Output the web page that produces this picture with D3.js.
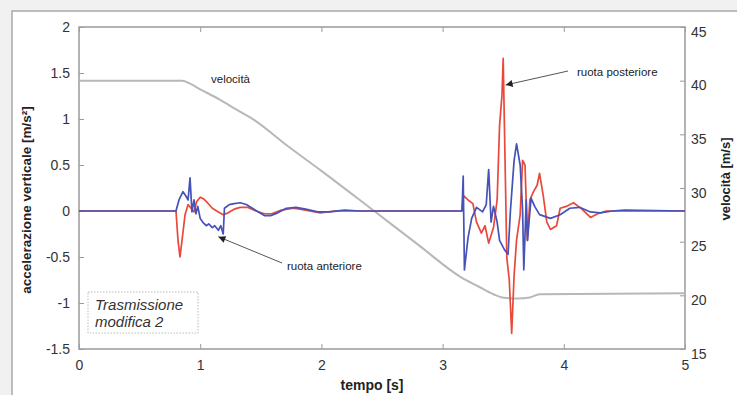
<!DOCTYPE html>
<html>
<head>
<meta charset="utf-8">
<script src="https://cdn.jsdelivr.net/npm/d3@7"></script>
<style>
  html, body { margin: 0; padding: 0; background: #f1f1f1; }
  svg { display: block; font-family: "Liberation Sans", Arial, sans-serif; }
</style>
</head>
<body>
<div id="chart"></div>
<script>
// tempo [s] / valori
const velT = [0, 0.85, 0.92, 1.0, 1.15, 1.3, 1.45, 1.7, 2.0, 2.43, 2.8, 3.15, 3.3, 3.42, 3.49, 3.62, 3.72, 3.8, 5];
const velV = [40, 40, 39.7, 39.2, 38.3, 37.3, 36.3, 34.1, 31.6, 27.9, 24.7, 21.7, 20.8, 20.1, 19.8, 19.7, 19.8, 20.1, 20.2];

// ruota anteriore (blu)
const antT = [0, 0.80, 0.825, 0.858, 0.883, 0.90, 0.916, 0.932, 0.949, 0.965, 0.98, 1.0, 1.02, 1.05, 1.07, 1.10,
  1.12, 1.15, 1.17, 1.19, 1.20, 1.24, 1.28, 1.33, 1.38, 1.43, 1.48, 1.53, 1.58, 1.64, 1.71, 1.79, 1.87, 1.97,
  2.07, 2.19, 2.32, 3.16, 3.17, 3.18, 3.21, 3.24, 3.28, 3.33, 3.36, 3.38, 3.40, 3.42, 3.45, 3.47, 3.51, 3.54,
  3.56, 3.59, 3.61, 3.64, 3.66, 3.67, 3.69, 3.70, 3.73, 3.76, 3.80, 3.89, 3.97, 4.05, 4.13, 4.22, 4.30, 4.40, 4.50, 5];
const antA = [0, 0, 0.12, 0.21, 0.16, 0.12, 0.36, -0.01, 0.12, -0.03, 0.05, -0.08, -0.12, -0.16, -0.14, -0.18,
  -0.16, -0.21, -0.16, -0.25, 0.03, 0.07, 0.08, 0.09, 0.07, 0.03, -0.01, -0.05, -0.05, -0.02, 0.03, 0.04, 0.02, -0.01,
  -0.01, 0.01, 0, 0, 0.38, -0.64, -0.29, -0.08, 0.04, -0.01, 0.07, 0.45, -0.12, 0.05, -0.12, -0.32, -0.42, -0.47,
  0.01, 0.55, 0.73, 0.50, 0.01, -0.64, 0.12, -0.32, 0.14, 0.05, -0.04, -0.08, -0.04, 0.03, 0.04, -0.01, -0.02, 0, 0.01, 0];

// ruota posteriore (rossa)
const posT = [0, 0.80, 0.817, 0.833, 0.85, 0.875, 0.90, 0.924, 0.95, 0.97, 1.0, 1.03, 1.06, 1.10, 1.15, 1.19,
  1.23, 1.28, 1.33, 1.39, 1.46, 1.53, 1.59, 1.67, 1.77, 1.87, 1.99, 2.11, 3.16, 3.17, 3.21, 3.25, 3.28, 3.32,
  3.35, 3.38, 3.42, 3.45, 3.47, 3.49, 3.50, 3.51, 3.53, 3.55, 3.57, 3.59, 3.61, 3.64, 3.66, 3.68, 3.70, 3.72,
  3.75, 3.78, 3.80, 3.83, 3.86, 3.89, 3.94, 3.97, 4.02, 4.08, 4.15, 4.22, 4.28, 4.35, 4.46, 5];
const posA = [0, 0, -0.32, -0.5, -0.32, -0.04, 0.07, 0.03, -0.01, 0.10, 0.15, 0.13, 0.09, 0.03, -0.01, -0.04,
  -0.02, 0.02, 0.04, 0.04, 0, -0.03, -0.03, 0.01, 0.03, 0.01, -0.02, 0, 0, 0.17, 0.12, 0.08, -0.12, -0.24,
  -0.16, -0.35, -0.18, 0.12, 0.93, 1.26, 1.66, 0.93, -0.51, -0.75, -1.33, -0.70, -0.32, -0.04, 0.55, 0.50, -0.32, 0.12,
  0.21, 0.28, 0.41, 0.17, -0.12, -0.20, -0.16, 0.03, 0.05, 0.09, 0.02, -0.07, -0.03, 0, 0, 0];

const tTicks = [0, 1, 2, 3, 4, 5];
const aTicks = [2, 1.5, 1, 0.5, 0, -0.5, -1, -1.5];
const vTicks = [45, 40, 35, 30, 25, 20, 15];

const W = 737, H = 395;
const svg = d3.select("#chart").append("svg").attr("width", W).attr("height", H);

// cornice esterna
svg.append("rect").attr("x", 12).attr("y", 11).attr("width", W + 10).attr("height", H + 10)
  .attr("fill", "#fff").attr("stroke", "#a9a9a9").attr("stroke-width", 1.5);

const x = d3.scaleLinear().domain([0, 5]).range([79, 685]);
const yA = d3.scaleLinear().domain([-1.5, 2]).range([349, 27]);
const yV = d3.scaleLinear().domain([15, 45]).range([349, 27]);

function styleAxis(g) {
  g.select(".domain").remove();
  g.selectAll(".tick line").attr("stroke", "#9a9a9a");
  g.selectAll(".tick text").attr("fill", "#333").style("font-size", "14px");
}

svg.append("g").attr("transform", "translate(0,349)")
  .call(d3.axisBottom(x).tickValues(tTicks).tickFormat(d3.format("d")).tickSize(-5).tickPadding(11))
  .call(styleAxis);
svg.append("g").attr("transform", "translate(0,27)")
  .call(d3.axisTop(x).tickValues(tTicks).tickFormat("").tickSize(-5))
  .call(styleAxis);
svg.append("g").attr("transform", "translate(79,0)")
  .call(d3.axisLeft(yA).tickValues(aTicks).tickFormat(d => String(d)).tickSize(-5).tickPadding(9))
  .call(styleAxis);
svg.append("g").attr("transform", "translate(685,0)")
  .call(d3.axisRight(yV).tickValues(vTicks).tickFormat(d3.format("d")).tickSize(-5).tickPadding(6))
  .call(styleAxis)
  .selectAll(".tick text").attr("dy", "0.65em");

// riquadro del grafico
svg.append("rect").attr("x", 79).attr("y", 27).attr("width", 606).attr("height", 322)
  .attr("fill", "none").attr("stroke", "#a0a0a0").attr("stroke-width", 1.6);

const lineV = d3.line().x((d, i) => x(velT[i])).y(d => yV(d)).curve(d3.curveMonotoneX);
svg.append("path").datum(velV).attr("d", lineV)
  .attr("fill", "none").attr("stroke", "#b8b8b8").attr("stroke-width", 2);

const linePos = d3.line().x((d, i) => x(posT[i])).y(d => yA(d));
svg.append("path").datum(posA).attr("d", linePos)
  .attr("fill", "none").attr("stroke", "#e8493b").attr("stroke-width", 1.7).attr("stroke-linejoin", "round");

const lineAnt = d3.line().x((d, i) => x(antT[i])).y(d => yA(d));
svg.append("path").datum(antA).attr("d", lineAnt)
  .attr("fill", "none").attr("stroke", "#4652b8").attr("stroke-width", 1.7).attr("stroke-linejoin", "round");

// frecce e etichette
svg.append("defs").append("marker").attr("id", "head")
  .attr("viewBox", "0 0 10 10").attr("refX", 10).attr("refY", 5)
  .attr("markerWidth", 9).attr("markerHeight", 7).attr("markerUnits", "userSpaceOnUse")
  .attr("orient", "auto")
  .append("path").attr("d", "M0,0L10,5L0,10z").attr("fill", "#222");

svg.append("line").attr("x1", 568).attr("y1", 71).attr("x2", x(3.52)).attr("y2", 85)
  .attr("stroke", "#555").attr("stroke-width", 1).attr("marker-end", "url(#head)");
svg.append("line").attr("x1", 282).attr("y1", 263).attr("x2", x(1.15)).attr("y2", yA(-0.28))
  .attr("stroke", "#555").attr("stroke-width", 1).attr("marker-end", "url(#head)");

const note = svg.append("g").style("font-size", "11.5px").attr("fill", "#222");
note.append("text").attr("x", 211).attr("y", 83).text("velocità");
note.append("text").attr("x", 577).attr("y", 76).text("ruota posteriore");
note.append("text").attr("x", 287).attr("y", 270).text("ruota anteriore");

// riquadro testo
svg.append("rect").attr("x", 88).attr("y", 292).attr("width", 110).attr("height", 41)
  .attr("fill", "#fff").attr("stroke", "#bbb").attr("stroke-dasharray", "1.5,1.5");
const box = svg.append("g").style("font-size", "15px").style("font-style", "italic").attr("fill", "#333");
box.append("text").attr("x", 95).attr("y", 310).text("Trasmissione");
box.append("text").attr("x", 95).attr("y", 327).text("modifica 2");

// titoli degli assi
svg.append("text").attr("transform", "translate(31,200) rotate(-90)")
  .attr("text-anchor", "middle").style("font-size", "13.5px").style("font-weight", "bold").attr("fill", "#222")
  .text("accelerazione verticale [m/s²]");
svg.append("text").attr("transform", "translate(730,179) rotate(-90)")
  .attr("text-anchor", "middle").style("font-size", "13px").style("font-weight", "bold").attr("fill", "#222")
  .text("velocità [m/s]");
svg.append("text").attr("x", 372).attr("y", 390)
  .attr("text-anchor", "middle").style("font-size", "14px").style("font-weight", "bold").attr("fill", "#222")
  .text("tempo [s]");
</script>
</body>
</html>
